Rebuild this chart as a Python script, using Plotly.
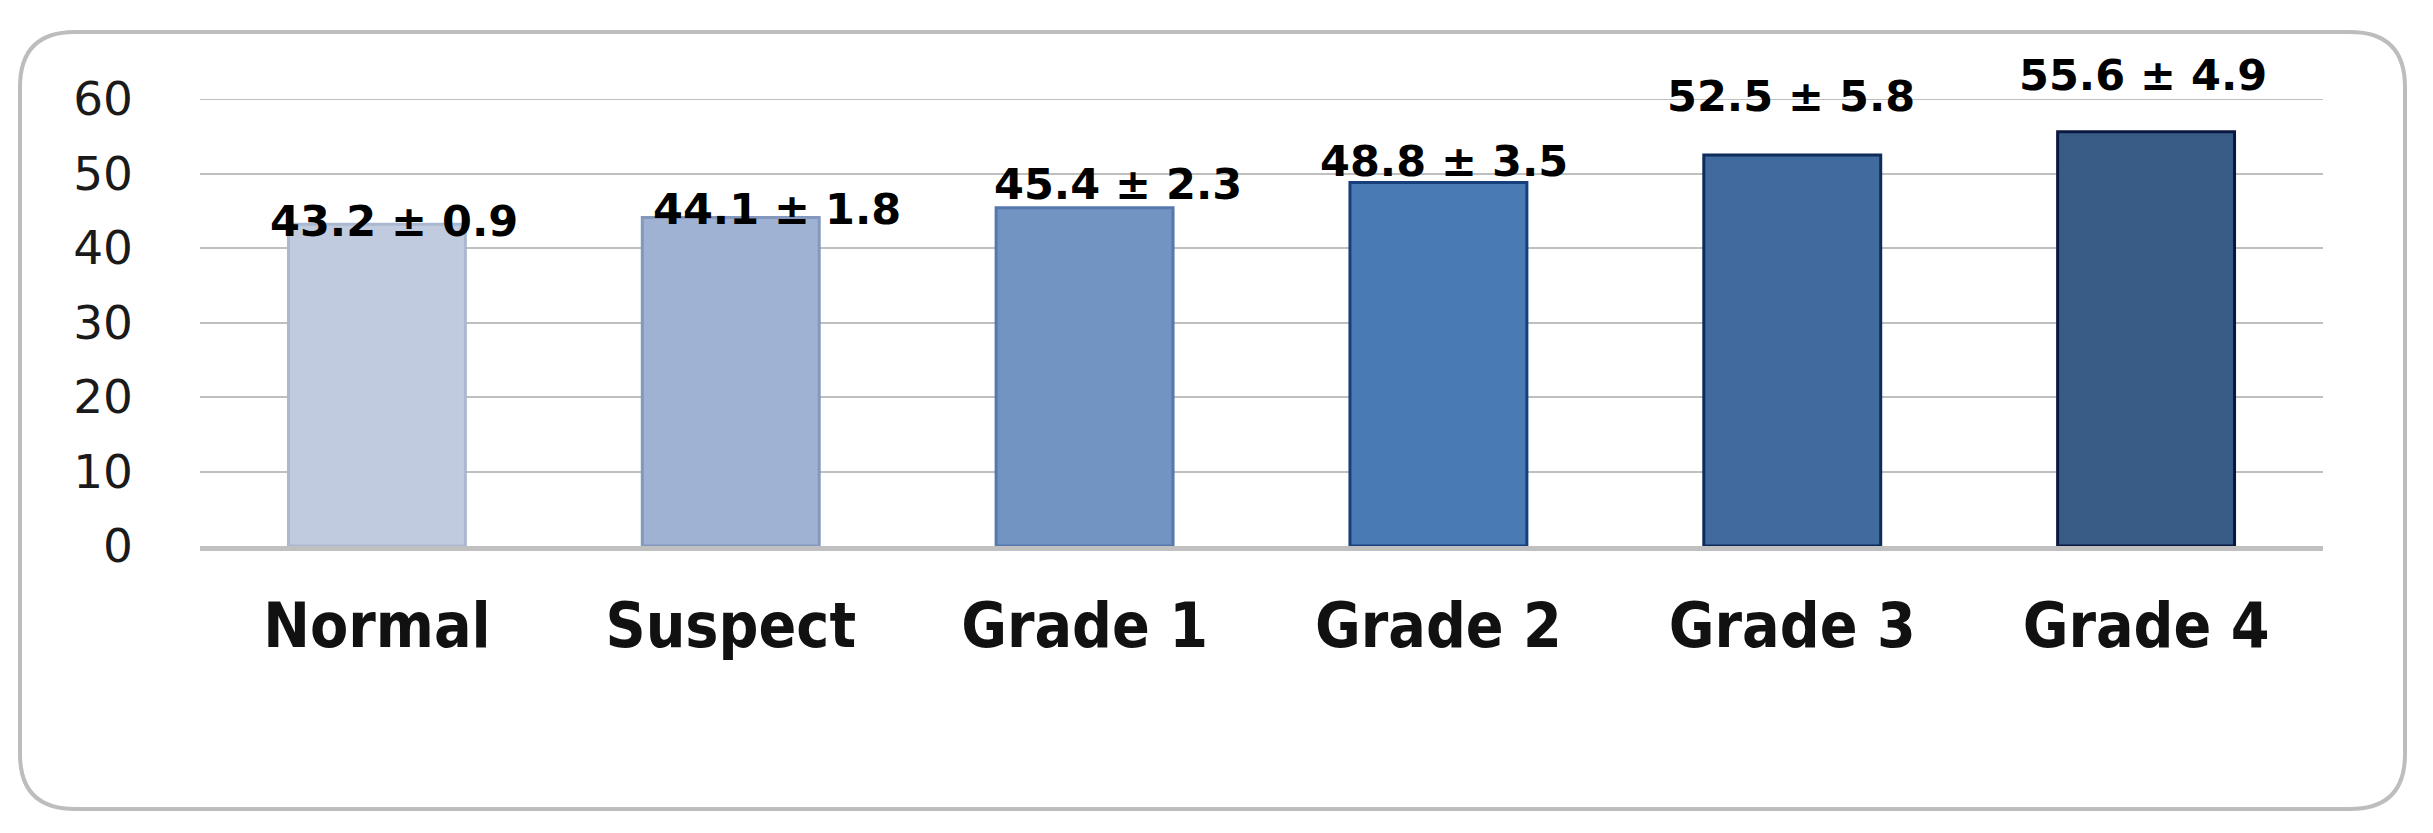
import plotly.graph_objects as go

# ---- data ----
categories = ["Normal", "Suspect", "Grade 1", "Grade 2", "Grade 3", "Grade 4"]
means = [43.2, 44.1, 45.4, 48.8, 52.5, 55.6]
sds = [0.9, 1.8, 2.3, 3.5, 5.8, 4.9]
y_ticks = [0, 10, 20, 30, 40, 50, 60]

# ---- styles ----
fill_colors = ["#C0CBDF", "#A0B2D3", "#7294C3", "#4A7AB4", "#416B9E", "#395C87"]
line_colors = ["#AAB8D0", "#8498BE", "#5579AE", "#173F7B", "#0F2B5A", "#081840"]
label_xshift = [17, 46, 33, 6, -1, -3]
label_yshift = [3, 8, 24, 21, 59, 57]

W, H = 2433, 833
OFF = 8  # default page body margin
PL, PR, PT, PB = 200, 2323, 99, 546  # plot area in page pixels
pw, ph = PR - PL, PB - PT
L, T = PL - OFF, PT - OFF
R, B = W - L - pw, H - T - ph

fig = go.Figure()
fig.add_trace(go.Bar(
    x=categories, y=means, width=0.5,
    marker=dict(color=fill_colors, line=dict(color=line_colors, width=3)),
    hoverinfo="skip",
))

for cat, m, s, dx, dy in zip(categories, means, sds, label_xshift, label_yshift):
    fig.add_annotation(
        x=cat, y=m, xref="x", yref="y",
        text=f"{m:.1f} ± {s:.1f}", showarrow=False,
        xanchor="center", yanchor="middle", xshift=dx, yshift=dy,
        font=dict(family="DejaVu Sans", size=43, color="#000000", weight="bold"),
    )

# top gridline (at 60)
fig.add_shape(type="line", xref="paper", yref="y", x0=0, x1=1, y0=60, y1=60,
              line=dict(color="#BFBFBF", width=2), layer="below")

# rounded outer frame (page pixel coords converted to paper coords)
def px(x):
    return (x - PL) / pw

def py(y):
    return (PB - y) / ph

x0, y0, x1, y1, r = 20, 32, 2405, 809, 55
path = (
    f"M {px(x0 + r)},{py(y0)} L {px(x1 - r)},{py(y0)} "
    f"Q {px(x1)},{py(y0)} {px(x1)},{py(y0 + r)} "
    f"L {px(x1)},{py(y1 - r)} Q {px(x1)},{py(y1)} {px(x1 - r)},{py(y1)} "
    f"L {px(x0 + r)},{py(y1)} Q {px(x0)},{py(y1)} {px(x0)},{py(y1 - r)} "
    f"L {px(x0)},{py(y0 + r)} Q {px(x0)},{py(y0)} {px(x0 + r)},{py(y0)} Z"
)
fig.add_shape(type="path", path=path, xref="paper", yref="paper",
              line=dict(color="#BDBDBD", width=4), layer="below")

fig.update_layout(
    width=W, height=H,
    margin=dict(l=L, r=R, t=T, b=B, pad=0),
    paper_bgcolor="white", plot_bgcolor="white",
    showlegend=False, bargap=0.5,
    xaxis=dict(
        showgrid=False, showline=True, linecolor="#C0C0C0", linewidth=5,
        ticks="", ticklabelstandoff=22,
        tickfont=dict(family="DejaVu Sans Condensed, DejaVu Sans", size=62,
                      color="#111111", weight="bold"),
    ),
    yaxis=dict(
        range=[0, 60], tickvals=y_ticks, showgrid=True, gridcolor="#BFBFBF",
        gridwidth=2, zeroline=False, showline=False, ticks="",
        ticklabelstandoff=66,
        tickfont=dict(family="DejaVu Sans", size=47, color="#1a1a1a"),
    ),
)

fig.write_html("out.html")
